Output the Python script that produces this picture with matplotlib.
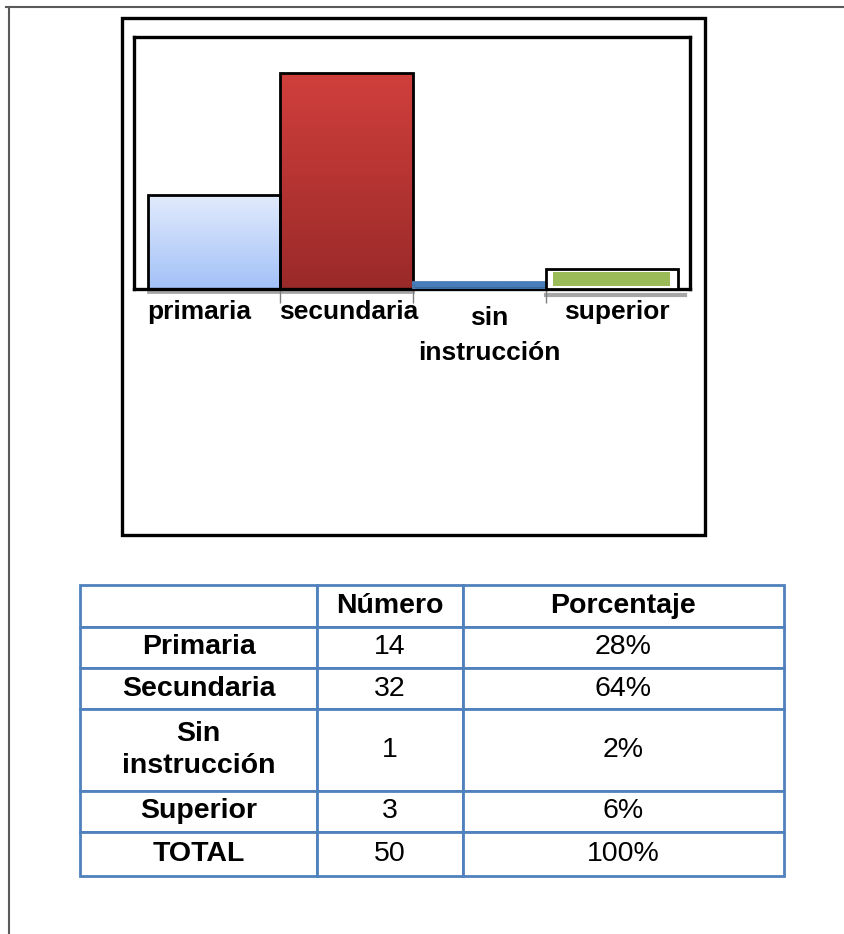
import matplotlib

matplotlib.use("Agg")
import matplotlib.pyplot as plt  # noqa: E402
import numpy as np  # noqa: E402
from matplotlib.colors import LinearSegmentedColormap  # noqa: E402
from matplotlib.lines import Line2D  # noqa: E402
from matplotlib.patches import Rectangle  # noqa: E402
from matplotlib.transforms import ScaledTranslation  # noqa: E402

plt.rcParams["font.family"] = ["Liberation Sans", "DejaVu Sans"]

# --- data -------------------------------------------------------------
categories = ["primaria", "secundaria", "sin\ninstrucción", "superior"]
counts = [14, 32, 1, 3]

row_labels = ["Primaria", "Secundaria", "Sin\ninstrucción", "Superior", "TOTAL"]
col_labels = ["", "Número", "Porcentaje"]
numbers = ["14", "32", "1", "3", "50"]
percents = ["28%", "64%", "2%", "6%", "100%"]

# --- figure -----------------------------------------------------------
W, H = 844, 934
fig = plt.figure(figsize=(W / 100, H / 100), dpi=100)

# page border (top and left only)
fig.add_artist(Line2D([6 / W, 1], [1 - 7 / H, 1 - 7 / H], color="#5a5a5a", lw=1.5))
fig.add_artist(Line2D([9 / W, 9 / W], [0, 1 - 7 / H], color="#5a5a5a", lw=1.5))

# outer chart frame
fig.add_artist(Rectangle((122 / W, 1 - 535 / H), 583 / W, 517 / H,
                         transform=fig.transFigure, fill=False,
                         edgecolor="black", lw=2.4))

# --- bar chart --------------------------------------------------------
ax = fig.add_axes([134 / W, 1 - 289 / H, 556 / W, 252 / H])
x = np.arange(len(categories))
ax.set_xlim(-0.605, 3.59)
ax.set_ylim(0, 37.4)

grads = [
    ["#a3c1f8", "#e2ebfc"],
    ["#9a2a29", "#d03f3c"],
    ["#4a7ebb", "#4a7ebb"],
    ["#9bbb59", "#9bbb59"],
]
edges = ["black", "black", "#4a7ebb", "black"]
bars = ax.bar(x, counts, width=1.0, color="none", edgecolor=edges, lw=2, zorder=3)
for b, (c0, c1) in zip(bars, grads):
    cmap = LinearSegmentedColormap.from_list("g", [c0, c1])
    bx, by = b.get_x(), b.get_y()
    im = ax.imshow(np.linspace(0, 1, 100).reshape(-1, 1), cmap=cmap, origin="lower",
                   aspect="auto", extent=[bx, bx + b.get_width(), by, by + b.get_height()],
                   zorder=2)
    im.set_clip_path(b)

# superior bar: white gap between outline and green fill
sup = bars[3]
sup.set_facecolor("white")
ax.bar(x[3], counts[3] - 1.0, width=0.88, bottom=0.45, color="#9bbb59", zorder=4)

# faint grey shadow under the bars
ax.plot([x[0] - 0.5, x[1] + 0.5], [-0.5, -0.5], color="#a6a6a6", lw=2,
        clip_on=False, zorder=1)
ax.plot([x[3] - 0.5, x[3] + 0.55], [-0.9, -0.9], color="#a6a6a6", lw=3,
        clip_on=False, zorder=1)

ax.set_xticks(x)
ax.set_xticklabels(categories, fontsize=19, fontweight="bold", linespacing=1.55)
ax.tick_params(axis="x", which="major", length=0, pad=8)
# Excel places the labels a little off-centre
for lab, (dx, dy) in zip(ax.get_xticklabels(), [(-15, 0), (2, 0), (10, -6), (5, 0)]):
    lab.set_transform(lab.get_transform()
                      + ScaledTranslation(dx / 100, dy / 100, fig.dpi_scale_trans))
ax.set_xticks(x[:-1] + 0.5, minor=True)
ax.tick_params(axis="x", which="minor", length=10, color="#7f7f7f", width=1)
ax.set_yticks([])
for s in ax.spines.values():
    s.set_linewidth(2.4)
    s.set_color("black")

# --- table ------------------------------------------------------------
tax = fig.add_axes([80 / W, 1 - 876 / H, 704 / W, 291 / H])
tax.axis("off")
cell_text = [col_labels] + [[r, n, p] for r, n, p in zip(row_labels, numbers, percents)]
tbl = tax.table(cellText=cell_text, cellLoc="center", bbox=[0, 0, 1, 1],
                colWidths=[237, 146, 321])
tbl.auto_set_font_size(False)
row_h = [42, 41, 41, 82, 41, 44]
for (r, c), cell in tbl.get_celld().items():
    cell.set_height(row_h[r])
    cell.set_edgecolor("#4f81bd")
    cell.set_linewidth(2)
    txt = cell.get_text()
    txt.set_fontsize(20.5)
    txt.set_linespacing(1.3)
    if r == 0 or c == 0:
        txt.set_fontweight("bold")

fig.savefig("out.png", dpi=100)
